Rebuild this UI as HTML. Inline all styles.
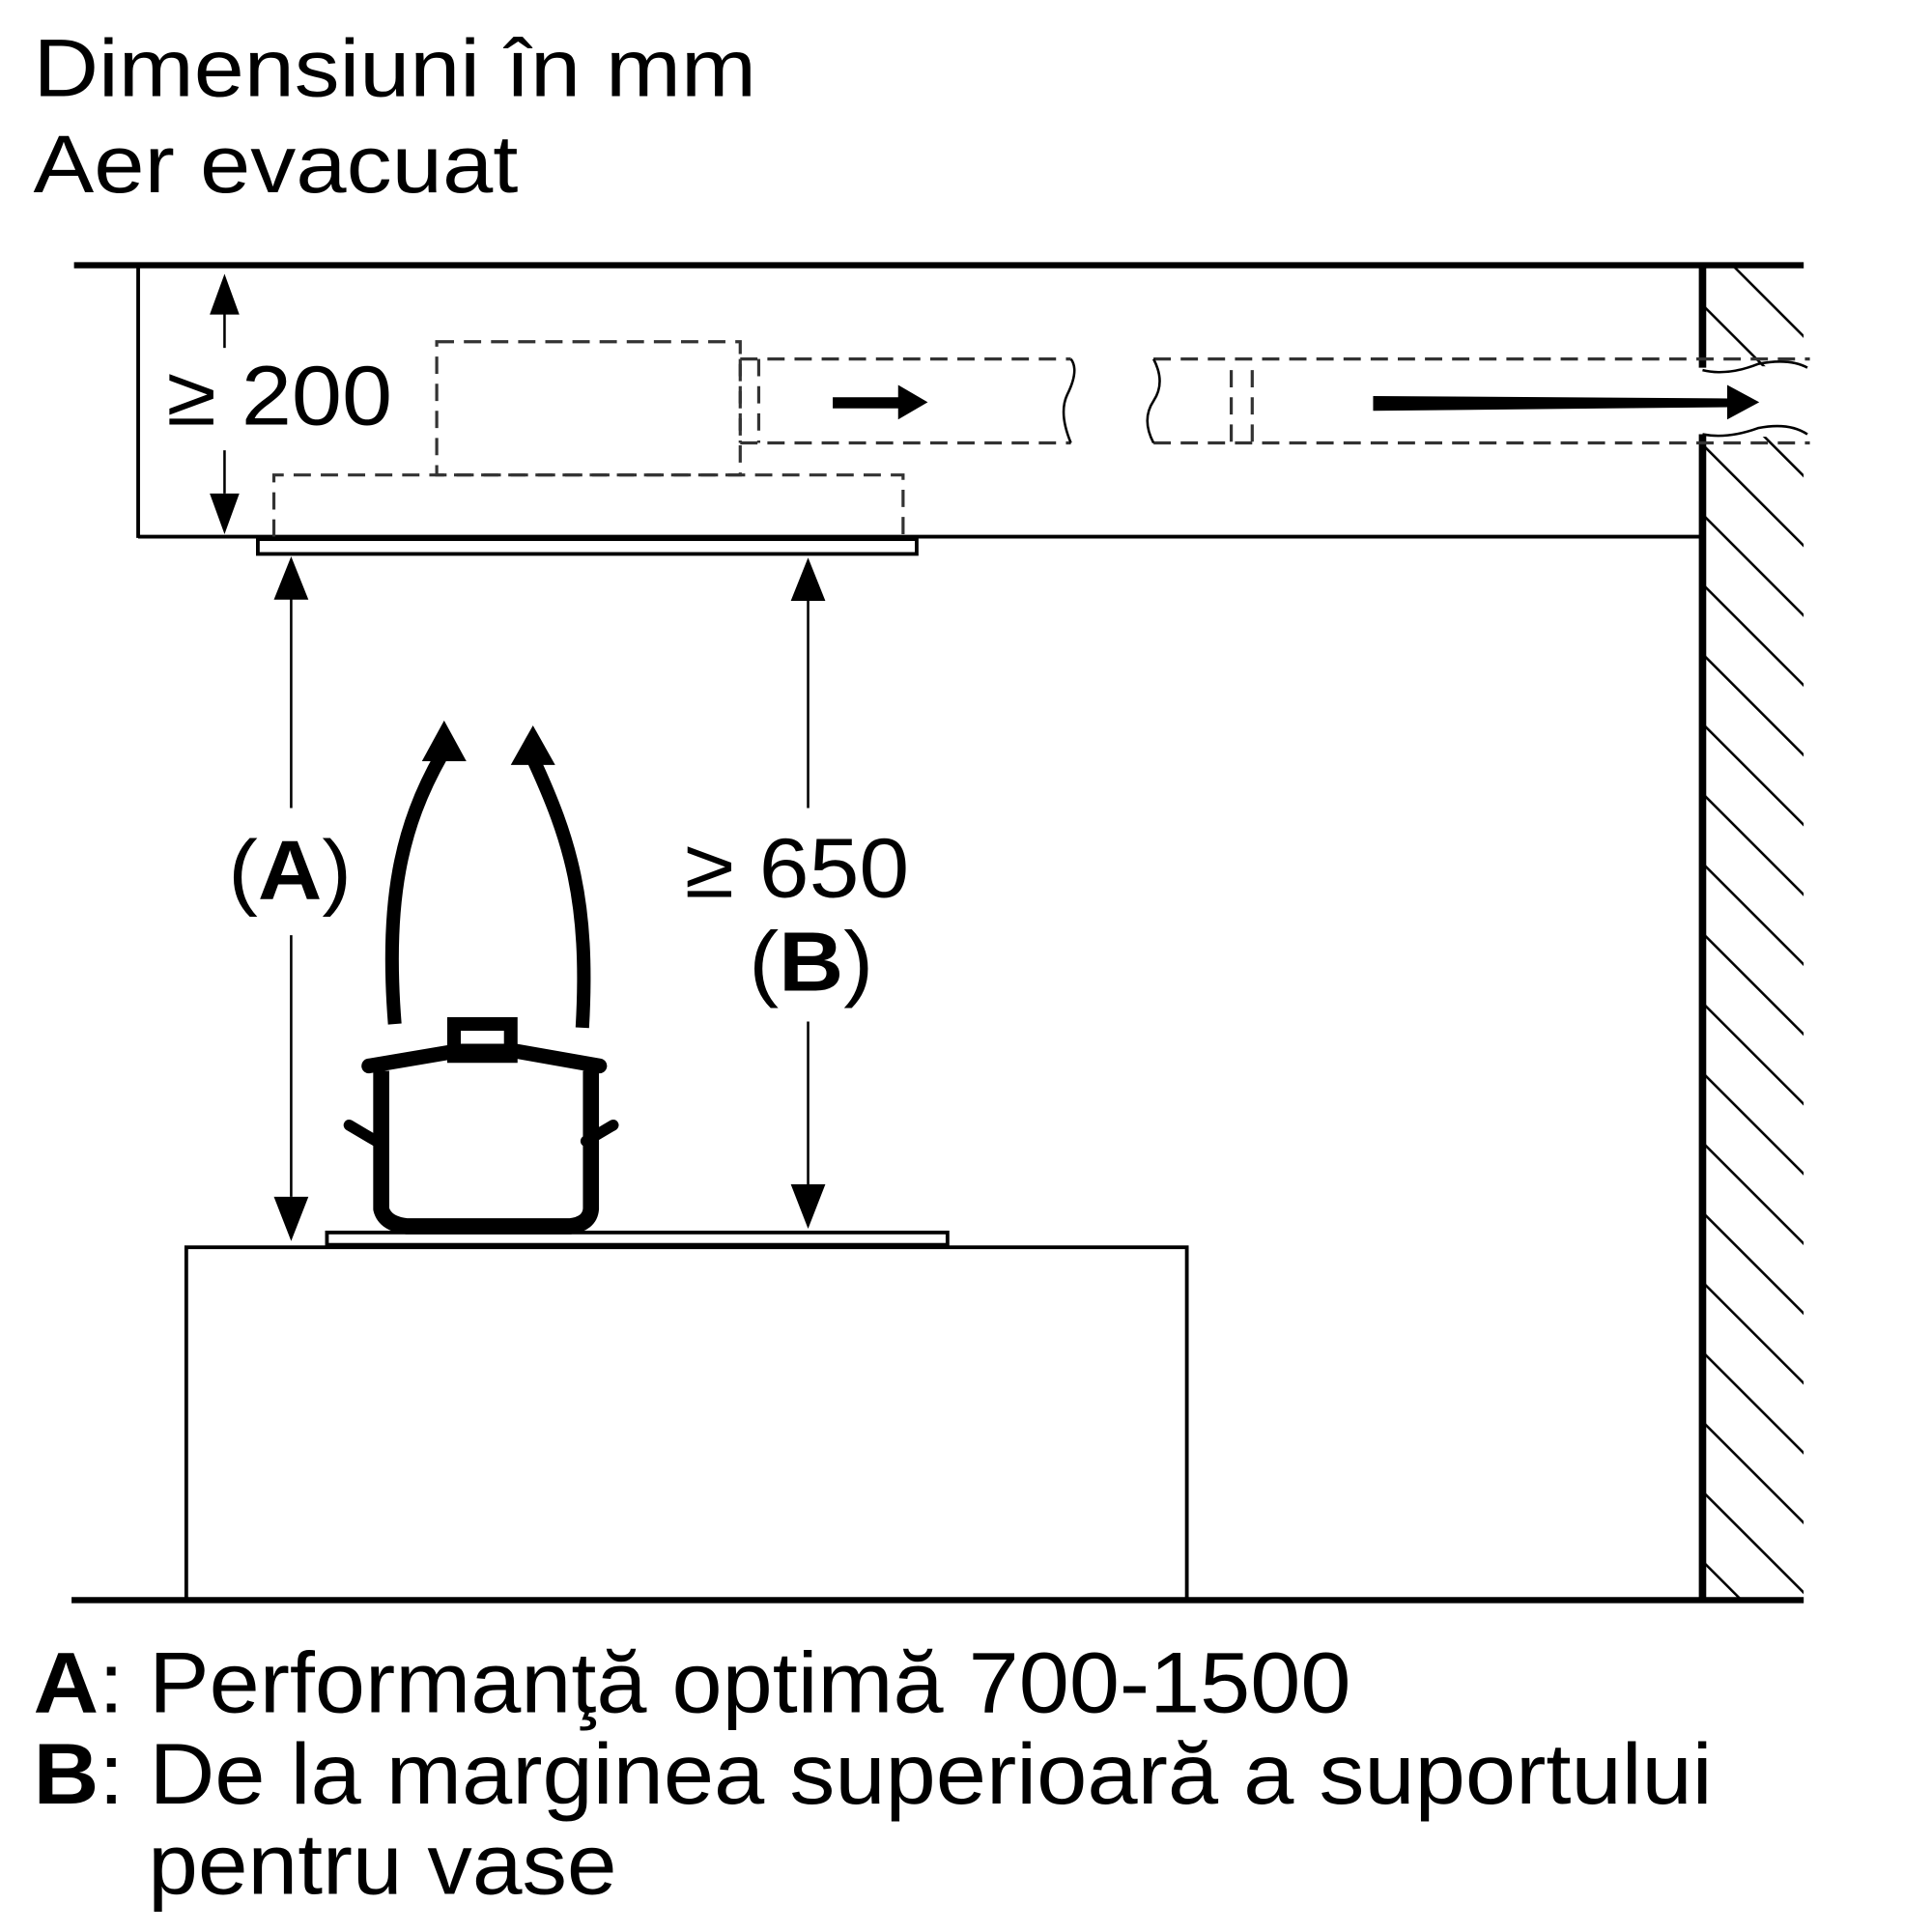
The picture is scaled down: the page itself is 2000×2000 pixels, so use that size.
<!DOCTYPE html>
<html><head><meta charset="utf-8"><style>html,body{margin:0;padding:0;background:#fff}svg{display:block}</style></head>
<body>
<svg width="2000" height="2000" viewBox="0 0 1566 1566" xmlns="http://www.w3.org/2000/svg" font-family="Liberation Sans, sans-serif">
<defs>
<pattern id="h" patternUnits="userSpaceOnUse" width="40" height="40" patternTransform="rotate(-45)">
<line x1="0" y1="0" x2="0" y2="40" stroke="#000" stroke-width="4"/>
</pattern>
<clipPath id="wc"><rect x="1382" y="217" width="80" height="1080"/></clipPath>
</defs>
<text x="27" y="78" font-size="66" textLength="586" lengthAdjust="spacingAndGlyphs">Dimensiuni în mm</text>
<text x="27" y="156" font-size="66" textLength="393" lengthAdjust="spacingAndGlyphs">Aer evacuat</text>
<!-- wall hatch -->
<g clip-path="url(#wc)">
<rect x="1380" y="217" width="82" height="80" fill="url(#h)"/>
<rect x="1380" y="354" width="82" height="943" fill="url(#h)"/>
</g>
<rect x="1380" y="297" width="90" height="56" fill="#fff"/>
<path d="M1380 300 Q1400 305 1425 295 Q1450 290 1465 298" fill="none" stroke="#000" stroke-width="2"/>
<path d="M1380 352 Q1400 356 1425 347 Q1450 342 1465 352" fill="none" stroke="#000" stroke-width="2"/>
<g stroke="#000" fill="none">
<line x1="60" y1="215" x2="1462" y2="215" stroke-width="5"/>
<line x1="58" y1="1297" x2="1462" y2="1297" stroke-width="5"/>
<line x1="1380" y1="215" x2="1380" y2="298" stroke-width="6"/>
<line x1="1380" y1="352" x2="1380" y2="1297" stroke-width="6"/>
<line x1="112" y1="215" x2="112" y2="436" stroke-width="3"/>
<line x1="112" y1="435" x2="1380" y2="435" stroke-width="3"/>
<rect x="209" y="437" width="534" height="12" stroke-width="3"/>
<rect x="151" y="1011" width="811" height="286" stroke-width="3"/>
<rect x="265" y="999" width="503" height="10" stroke-width="3"/>
<g stroke-dasharray="14,8" stroke-width="2.5" stroke="#333">
<rect x="354" y="277" width="246" height="108"/>
<polyline points="222,435 222,385 732,385 732,435"/>
<line x1="600" y1="291" x2="868" y2="291"/>
<line x1="600" y1="359" x2="868" y2="359"/>
<line x1="600" y1="291" x2="600" y2="359"/>
<line x1="615" y1="291" x2="615" y2="359"/>
<line x1="935" y1="291" x2="1467" y2="291"/>
<line x1="935" y1="359" x2="1467" y2="359"/>
<line x1="998" y1="300" x2="998" y2="359"/>
<line x1="1015" y1="300" x2="1015" y2="359"/>
</g>
<path d="M868 291 Q875 300 865 320 Q858 335 868 359" stroke-width="2"/>
<path d="M935 291 Q945 310 935 325 Q925 340 935 359" stroke-width="2"/>
<!-- dims -->
<line x1="182" y1="250" x2="182" y2="282" stroke-width="2"/>
<line x1="182" y1="365" x2="182" y2="400" stroke-width="2"/>
<line x1="236" y1="485" x2="236" y2="655" stroke-width="2"/>
<line x1="236" y1="758" x2="236" y2="970" stroke-width="2"/>
<line x1="655" y1="485" x2="655" y2="655" stroke-width="2"/>
<line x1="655" y1="828" x2="655" y2="960" stroke-width="2"/>
<!-- steam -->
<path d="M320 830 C312 730 325 670 358 612" stroke-width="11"/>
<path d="M472 833 C478 730 462 680 432 615" stroke-width="11"/>
<!-- pot -->
<path d="M309 868 L309 980 Q312 992 330 994 L462 994 Q478 992 479 980 L479 868" stroke-width="13" stroke-linejoin="round"/>
<path d="M299 864 L370 852 L418 852 L486 864" stroke-width="12" stroke-linecap="round"/>
<rect x="368" y="830" width="46" height="26" stroke-width="11"/>
<line x1="283" y1="912" x2="305" y2="925" stroke-width="9" stroke-linecap="round"/>
<line x1="497" y1="912" x2="475" y2="925" stroke-width="9" stroke-linecap="round"/>
</g>
<g fill="#000">
<polygon points="182,222 170,255 194,255"/>
<polygon points="182,433 170,400 194,400"/>
<polygon points="236,451 222,486 250,486"/>
<polygon points="236,1006 222,970 250,970"/>
<polygon points="655,452 641,487 669,487"/>
<polygon points="655,996 641,960 669,960"/>
<polygon points="360,584 342,617 378,617"/>
<polygon points="432,588 414,620 450,620"/>
<rect x="675" y="322" width="55" height="9"/>
<polygon points="728,312 752,326 728,340"/>
<polygon points="1113,321 1402,323 1402,330 1113,333"/>
<polygon points="1400,312 1426,326 1400,340"/>
</g>
<text x="135" y="344" font-size="68" textLength="183" lengthAdjust="spacingAndGlyphs">≥ 200</text>
<text x="185" y="729" font-size="68" textLength="100" lengthAdjust="spacingAndGlyphs">(<tspan font-weight="bold">A</tspan>)</text>
<text x="555" y="727" font-size="68" textLength="182" lengthAdjust="spacingAndGlyphs">≥ 650</text>
<text x="607" y="803" font-size="68" textLength="101" lengthAdjust="spacingAndGlyphs">(<tspan font-weight="bold">B</tspan>)</text>
<text x="27" y="1388" font-size="70" textLength="1068" lengthAdjust="spacingAndGlyphs"><tspan font-weight="bold">A</tspan>: Performanţă optimă 700-1500</text>
<text x="27" y="1462" font-size="70" textLength="1361" lengthAdjust="spacingAndGlyphs"><tspan font-weight="bold">B</tspan>: De la marginea superioară a suportului</text>
<text x="120" y="1535" font-size="70" textLength="380" lengthAdjust="spacingAndGlyphs">pentru vase</text>
</svg>
</body></html>
